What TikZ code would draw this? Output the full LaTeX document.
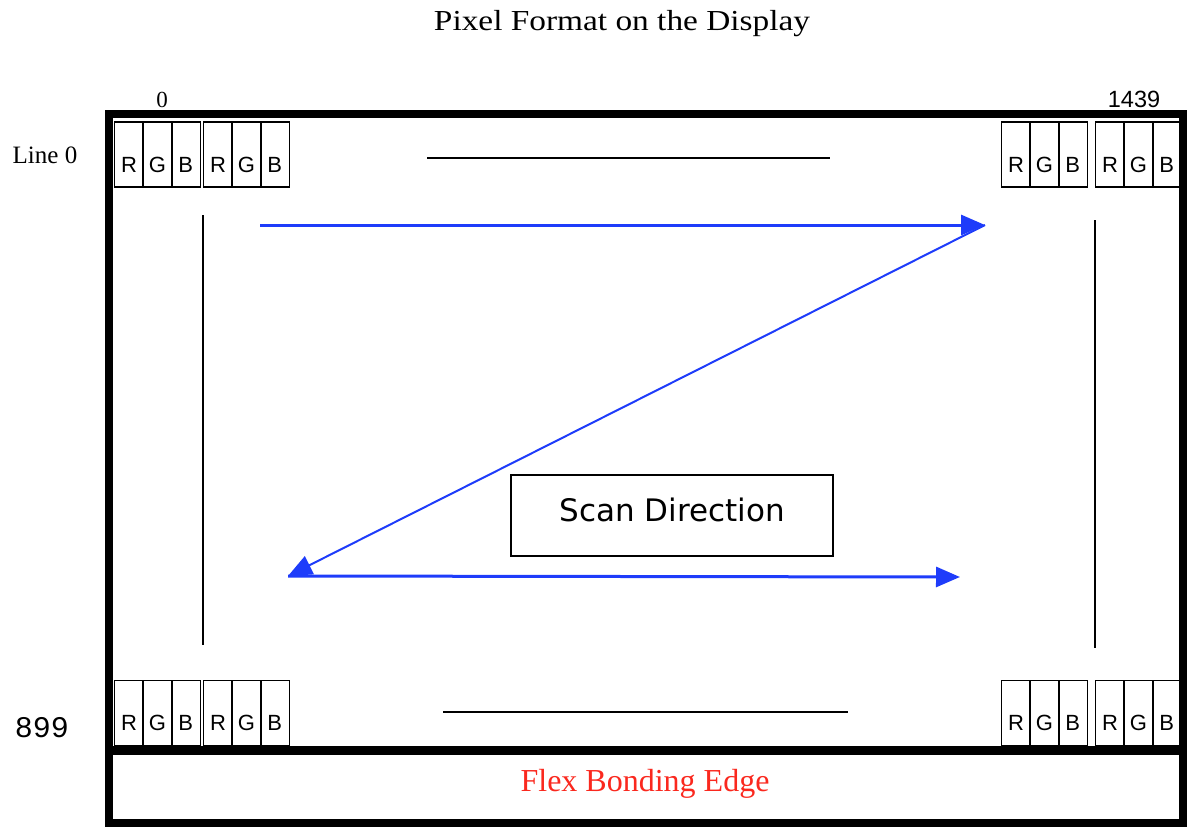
\documentclass[tikz,border=0pt]{standalone}
\usepackage{fontspec}
\usepackage{graphicx}
\usepackage{tikz}
\setmainfont{Liberation Serif}
\setsansfont{Liberation Sans}
\setmonofont{Liberation Mono}
\newfontfamily\scanfont{DejaVu Sans}
\usetikzlibrary{arrows.meta}
\usetikzlibrary{positioning}
\definecolor{scanblue}{RGB}{30,60,250}
\definecolor{flexred}{RGB}{250,40,30}
\tikzset{cellbox/.style = {draw, line width=1.2pt, minimum width=29pt, minimum height=65pt,
                           inner sep=0pt, text height=35pt, text depth=0pt,
                           font=\sffamily\fontsize{22}{23}\selectfont},
         scanarrow/.style = {scanblue, line width=3pt, -{Triangle[length=24pt,width=20pt]}},
         dotline/.style = {line width=2pt}}

\begin{document}
\begin{tikzpicture}[x=1pt, y=-1pt]
    \useasboundingbox (0, 0) rectangle (1187, 827);
    \node (title) at (622, 24) {\fontsize{29}{31}\selectfont\scalebox{1.15}[1]{Pixel Format on the Display}};
    \node (col0) at (162, 100) {\fontsize{23}{25}\selectfont 0};
    \node (colend) at (1134, 99) {\sffamily\fontsize{23.5}{25}\selectfont 1439};
    \node (line0) at (45, 155) {\fontsize{25}{27}\selectfont Line 0};
    \node (lineend) at (42, 728) {\ttfamily\fontsize{30}{32}\selectfont 899};
    \draw [line width=8pt] (109, 114) rectangle (1183, 823);
    \draw [line width=9pt] (109, 750) -- (1183, 750);
    \node (flex) at (645, 784) {\color{flexred}\fontsize{32}{34}\selectfont Flex Bonding Edge};
    \foreach \gx/\gn in {115/a, 204/b, 1002/c, 1096/d}
      \foreach \gy/\rn in {154.5/top, 713/bot}
        \foreach \ch [count=\i] in {R, G, B}
          \node [cellbox] (\rn-\gn-\i) at ({\gx + (\i - 0.5)*28.3}, \gy) {\ch};
    \draw [dotline] (427, 158) -- (830, 158);
    \draw [dotline] (443, 712) -- (848, 712);
    \draw [dotline] (203, 215) -- (203, 645);
    \draw [dotline] (1095, 220) -- (1095, 648);
    \node [draw, line width=1.5pt, minimum width=322pt, minimum height=81pt, text depth=11pt,
           font=\scanfont\fontsize{31}{33}\selectfont] (scan) at (672, 515.5) {Scan Direction};
    \coordinate (scanA) at (260, 225);
    \coordinate (scanB) at (985, 225);
    \coordinate (scanC) at (288, 576);
    \coordinate (scanD) at (960, 577);
    \draw [scanarrow] (scanA) -- (scanB);
    \draw [scanarrow, line width=2pt] (scanB) -- (scanC);
    \draw [scanarrow] (scanC) -- (scanD);
\end{tikzpicture}
\end{document}
